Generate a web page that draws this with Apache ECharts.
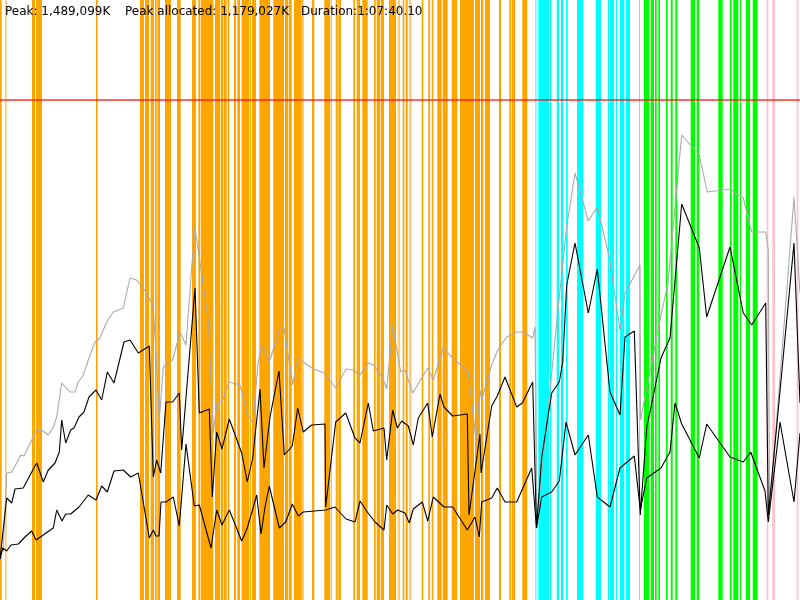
<!DOCTYPE html>
<html>
<head>
<meta charset="utf-8">
<script src="https://cdn.jsdelivr.net/npm/echarts@6/dist/echarts.min.js"></script>
<style>html,body{margin:0;padding:0;background:#fff}#c{width:800px;height:600px}</style>
</head>
<body>
<div id="c"></div>
<script>
// x: time (0..800 ticks over the run), y: memory (arbitrary units, 0..600)
const headerTexts = ['Peak: 1,489,099K', 'Peak allocated: 1,179,027K', 'Duration:1:07:40.10'];
const limitLevel = 500;

const orangeSpans = [[0,1.7],[32,35],[36,42],[96,97.7],[140,144],[145,149],[150.7,154],[155,156.7],[157.3,160],[165,171],[177,180.7],[192,196],[198.3,200],[200.7,213.3],[215,220],[220.7,223.3],[224,226.7],[227.7,229.3],[234,236],[237.3,240],[241.7,249.3],[250,251],[252,256],[259.3,270],[273.3,284],[285,288.3],[289,291.7],[294,301.7],[302.3,303.5],[312,314.3],[324.3,330],[330.7,331.7],[335.7,337.7],[338.3,341],[353.3,355],[356.7,360],[362.3,367.7],[374,375.7],[376.7,380],[380.7,384],[389,396],[402.7,404.3],[405.7,407.7],[421.7,423.3],[428.3,430],[431.7,433.3],[437.3,441.7],[442.7,447.7],[451.7,457.3],[460,474],[475,480],[481,483.3],[485,490],[499,501],[509.3,511],[511.7,515],[522.3,527.3]];
const orangeLightSpans = [[5,6.7],[397.7,400],[409,411.7]];
const cyanSpans = [[538.3,549],[550,551.3],[556.7,559],[561,563.3],[566,567.7],[577,583.3],[595.7,601],[607.7,609.3],[610,614],[615.7,617.3],[620,624.3],[626,630]];
const cyanLightSpans = [[535,536.7]];
const greenSpans = [[644,649.3],[650.7,654],[655,656.7],[658.3,660],[666,667.7],[670.7,672.7],[675.3,677.3],[690.7,695],[696.7,699.3],[718.3,722.7],[730,731.7],[733.3,738.3],[740,741],[746,750],[752.7,757.7]];
const greenLightSpans = [[639,640]];
const pinkSpans = [[766.7,768.3],[772.3,775],[796.7,798.3]];

const grayLine = [[3,48],[6.7,127],[11.7,128],[16.7,137],[20.7,145],[24,144],[28.3,153],[33.3,163],[36,169],[41.7,170],[48.3,165],[53.3,173],[56.7,183],[61.7,217],[70,208],[75,208],[78.3,218],[83.3,225],[88.3,240],[95,258],[100,262],[106.7,278],[113.3,288],[123.3,292],[130,322],[136.7,320],[146.7,307],[153.3,293],[156.7,233],[159.3,180],[163.3,233],[172.7,240],[180,268],[186,255],[191.7,333],[195,372],[208.3,280],[213.3,167],[217,197],[222,198],[229,218],[240,215],[247,187],[253,177],[258,237],[262,255],[269.3,238],[280,272],[284,272],[292.7,215],[297.7,242],[311.7,232],[324,227],[335.7,212],[346,231],[352.7,230],[360,225],[368.3,237],[373.3,235],[382.7,222],[386.7,211],[392.7,274],[400.7,228],[405,230],[412.7,207],[427.7,232],[433.3,220],[443.3,252],[452.7,242],[468.3,228],[476,160],[480,210],[481.7,200],[491.7,235],[497.7,250],[506.7,263],[516.7,268],[523.3,268],[532.7,262],[535,273],[537,80],[559.3,303],[566.7,373],[575,427],[588.3,379],[597.3,393],[609.3,343],[620,270],[625,307],[640,335],[640.5,180],[660,280],[668,317],[681.7,465],[699.3,445],[707.3,408],[730,411],[743.3,402],[751.7,368],[765.7,368],[768.3,350],[769.5,87],[794,403],[800,307]];

const upperLine = [[0,41],[6.7,102],[11.7,97],[15,111],[23.3,112],[31.7,128],[36.7,137],[43.3,118],[48.3,130],[55,137],[59.3,148],[61.7,180],[65.7,157],[70.7,170],[74,172],[79,183],[84,188],[89,203],[96,210],[101.7,200],[107.3,228],[114,217],[124,258],[130,260],[138.3,247],[149.3,254],[153.3,123],[156.7,140],[160.7,127],[166,198],[172.7,198],[179.3,207],[181.7,150],[195,312],[199.3,187],[209.3,191],[212.3,103],[216.7,168],[222,151],[229.3,181],[241.7,147],[247.3,118],[252.7,142],[260,211],[264,132],[270,183],[279,229],[284.3,145],[292.3,154],[297.7,192],[303.3,168],[311.7,175],[325,176],[325.7,93],[335.7,178],[345.7,187],[355,162],[360,157],[368.3,197],[373.3,169],[384,172],[386.7,140],[392.7,190],[397.3,172],[401.7,179],[408.3,174],[413.3,155],[418.3,182],[427.7,197],[432.3,163],[440,206],[444,193],[452.7,184],[467.3,186],[469,85],[480,166],[481,127],[491.7,194],[497.3,204],[505,223],[516.7,193],[522.3,197],[532.7,218],[536.5,72],[541.7,143],[551.7,207],[559.3,218],[562.7,238],[566.7,315],[575,357],[588.3,287],[597.3,331],[610,208],[620,185],[625,263],[634.3,269],[640.3,85],[646.7,172],[661,242],[670,262],[681.7,396],[699.3,352],[706.7,283],[730,353],[743.3,287],[751.7,275],[765.7,297],[768.3,85],[794,357],[800,197]];

const lowerLine = [[0,41],[2.7,52],[6.7,49],[11,55],[18.3,56],[25,63],[31.7,69],[36,60],[53.3,72],[56.7,90],[62,79],[65.7,86],[70.7,86],[79,93],[88.3,105],[96,100],[101.7,114],[107.3,108],[114,129],[123.3,130],[130.7,123],[138.3,127],[149.3,62],[153.3,70],[156,64],[159,64],[161,98],[166,98],[173.3,103],[179.3,74],[186,156],[194.3,94],[199.3,95],[211,52],[216.7,90],[222,75],[229.3,90],[241.7,59],[247.3,72],[256.7,105],[261,66],[265,93],[269.3,114],[279.3,72],[285.7,78],[292.3,96],[298.3,84],[303.3,88],[325.7,90],[335,93],[346,81],[355,78],[360,99],[367.3,88],[375,78],[384,70],[386.7,95],[392.7,86],[397.7,90],[405,87],[409.3,77],[413.3,91],[422.3,98],[427.7,79],[433.3,103],[444,93],[452.7,93],[467.3,70],[475,83],[479.3,63],[481.7,98],[491.7,102],[497.3,112],[505,98],[516.7,98],[531.7,132],[536.5,72],[541.7,103],[551.7,108],[559.3,119],[566,178],[575,145],[588.3,165],[597.3,103],[610,93],[620,132],[634.3,144],[640.3,90],[646.7,122],[661,132],[670,148],[675,197],[681.7,176],[699.3,142],[706.7,176],[730,143],[743.3,138],[750.7,148],[765,109],[768.3,78],[780,178],[794,98],[800,167]];

const chart = echarts.init(document.getElementById('c'), null, {renderer: 'canvas'});

function spanSeries(data, color, opacity) {
  return {
    type: 'custom',
    silent: true,
    z: 1,
    data: data,
    encode: {x: [0, 1]},
    renderItem: function (params, api) {
      const a = api.coord([api.value(0), 600]);
      const b = api.coord([api.value(1), 0]);
      return {
        type: 'rect',
        shape: {x: a[0], y: a[1], width: Math.max(b[0] - a[0], 1), height: b[1] - a[1]},
        style: {fill: color, opacity: opacity}
      };
    }
  };
}

function lineSeries(data, color) {
  return {
    type: 'line',
    data: data,
    showSymbol: false,
    symbol: 'none',
    z: 3,
    silent: true,
    lineStyle: {color: color, width: 1.1},
    emphasis: {disabled: true}
  };
}

const gray = lineSeries(grayLine, '#aaaaaa');
gray.markLine = {
  silent: true,
  symbol: 'none',
  label: {show: false},
  lineStyle: {color: 'rgba(255,0,0,0.6)', width: 2, type: 'solid'},
  data: [{yAxis: limitLevel}],
  z: 5
};

chart.setOption({
  animation: false,
  backgroundColor: '#ffffff',
  grid: {left: 0, right: 0, top: 0, bottom: 0},
  xAxis: {type: 'value', min: 0, max: 800, show: false},
  yAxis: {type: 'value', min: 0, max: 600, show: false},
  series: [
    spanSeries(orangeSpans, '#ffa500', 1),
    spanSeries(orangeLightSpans, '#ffa500', 0.55),
    spanSeries(cyanSpans, '#00ffff', 1),
    spanSeries(cyanLightSpans, '#00ffff', 0.55),
    spanSeries(greenSpans, '#00ff00', 1),
    spanSeries(greenLightSpans, '#00ff00', 0.55),
    spanSeries(pinkSpans, '#ffc0cb', 1),
    gray,
    lineSeries(upperLine, '#000000'),
    lineSeries(lowerLine, '#000000')
  ],
  graphic: [
    {type: 'text', left: 5, top: 6, z: 10, style: {text: headerTexts[0], fill: '#000', font: '12px "DejaVu Sans"'}},
    {type: 'text', left: 125, top: 6, z: 10, style: {text: headerTexts[1], fill: '#000', font: '12px "DejaVu Sans"'}},
    {type: 'text', left: 301, top: 6, z: 10, style: {text: headerTexts[2], fill: '#000', font: '12px "DejaVu Sans"'}}
  ]
});
</script>
</body>
</html>
